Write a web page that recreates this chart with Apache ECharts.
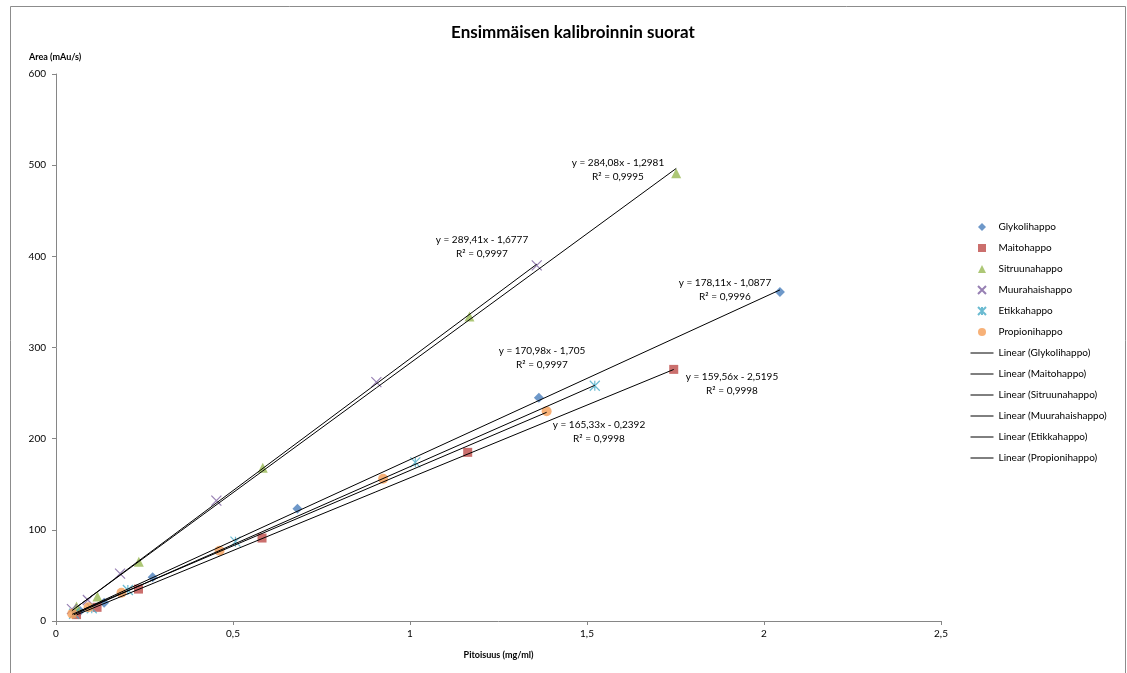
<!DOCTYPE html>
<html><head><meta charset="utf-8">
<script src="https://cdn.jsdelivr.net/npm/echarts@6/dist/echarts.min.js"></script>
<style>html,body{margin:0;padding:0;background:#fff}#c{width:1127px;height:673px}</style>
</head><body><div id="c"></div>
<script>
const seriesNames = ['Glykolihappo','Maitohappo','Sitruunahappo','Muurahaishappo','Etikkahappo','Propionihappo'];
const glykoliX = [0.068,0.136,0.273,0.682,1.364,2.045];
const glykoliY = [11,20,48,123,245,361];
const maitoX = [0.058,0.116,0.233,0.582,1.163,1.745];
const maitoY = [7,15,35,91,185,276];
const sitruunaX = [0.058,0.117,0.234,0.584,1.168,1.752];
const sitruunaY = [16,27,65,168,334,491];
const muurahaisX = [0.045,0.090,0.181,0.453,0.905,1.358];
const muurahaisY = [13,23,52,132,262,390];
const etikkaX = [0.051,0.101,0.203,0.507,1.015,1.522];
const etikkaY = [8,14,34,87,174,258];
const propioniX = [0.046,0.092,0.185,0.462,0.924,1.386];
const propioniY = [8,15,31,77,156,230];
const slopes = [178.11,159.56,284.08,289.41,170.98,165.33];
const intercepts = [-1.0877,-2.5195,-1.2981,-1.6777,-1.705,-0.2392];
const r2 = ['0,9996','0,9998','0,9995','0,9997','0,9997','0,9998'];
const xTicks = [0,0.5,1,1.5,2,2.5];
const yTicks = [0,100,200,300,400,500,600];

const xs = [glykoliX,maitoX,sitruunaX,muurahaisX,etikkaX,propioniX];
const ys = [glykoliY,maitoY,sitruunaY,muurahaisY,etikkaY,propioniY];
const colors = ['#4A7EBB','#BE4B48','#98B954','#7D60A0','#46AAC5','#F59D56'];
const symbols = ['diamond','rect','triangle','path://M0,0L10,10M10,0L0,10','path://M0,0L10,10M10,0L0,10M5,0L5,10','circle'];
const legendIcons = ['path://M5,0L10,5L5,10L0,5Z','path://M0,0H10V10H0Z','path://M5,0L10,10H0Z',
  'path://M0,0L10,10M10,0L0,10','path://M0,0L10,10M10,0L0,10M5,0L5,10','path://M0,5A5,5,0,1,1,10,5A5,5,0,1,1,0,5Z'];
const sizes = [10,9,10,10,10,10];
// label anchor pixels (layout only)
const labelPos = [[725,283],[732,377],[618,163],[482,240],[542,351],[599,425]];

const FONT = 'Lato, "Open Sans", sans-serif';
const series = [];
seriesNames.forEach((n,i)=>{
  const stroke = symbols[i].startsWith('path://');
  series.push({
    name:n, type:'scatter', symbol:symbols[i], symbolSize:sizes[i],
    data: xs[i].map((x,k)=>[x,ys[i][k]]),
    itemStyle: stroke ? {color:'rgba(0,0,0,0)', borderColor:colors[i], borderWidth:1.2} : {color:colors[i]},
    z:3
  });
});
seriesNames.forEach((n,i)=>{
  const x0 = Math.min(...xs[i]), x1 = Math.max(...xs[i]);
  series.push({
    name:'Linear ('+n+')', type:'line', symbol:'none', silent:true,
    data:[[x0, slopes[i]*x0+intercepts[i]],[x1, slopes[i]*x1+intercepts[i]]],
    lineStyle:{color:'#000', width:1}, itemStyle:{color:'#000'}, z:4
  });
});
const fmt = v => String(v).replace('.',',');
const graphics = [{type:'rect', shape:{x:10.5,y:6.5,width:1115,height:700}, style:{fill:'none', stroke:'#8c8c8c', lineWidth:1}, silent:true}];
seriesNames.forEach((n,i)=>{
  const sign = intercepts[i] < 0 ? ' - ' : ' + ';
  const eq = 'y = ' + fmt(slopes[i]) + 'x' + sign + fmt(Math.abs(intercepts[i]));
  graphics.push({type:'text', x:labelPos[i][0], y:labelPos[i][1], style:{text:eq, font:'10px '+FONT, fill:'#000', align:'center', verticalAlign:'middle'}, z:10});
  graphics.push({type:'text', x:labelPos[i][0], y:labelPos[i][1]+14, style:{text:'R² = '+r2[i], font:'10px '+FONT, fill:'#000', align:'center', verticalAlign:'middle'}, z:10});
});
graphics.push({type:'text', x:29, y:57, style:{text:'Area (mAu/s)', font:'bold 9px '+FONT, fill:'#000', verticalAlign:'middle'}});

const legendData = seriesNames.map((n,i)=>({name:n, icon:legendIcons[i]}))
  .concat(seriesNames.map(n=>({name:'Linear ('+n+')', itemStyle:{opacity:0}, lineStyle:{color:'#000', width:1}})));

const chart = echarts.init(document.getElementById('c'));
chart.setOption({
  animation:false,
  backgroundColor:'#fff',
  title:{text:'Ensimmäisen kalibroinnin suorat', left:568, top:19, textAlign:'center',
    textStyle:{fontFamily:FONT, fontWeight:'bold', fontSize:17, color:'#000'}},
  grid:{left:56, right:186, top:74, bottom:52, containLabel:false},
  xAxis:{type:'value', min:0, max:2.5, interval:0.5,
    name:'Pitoisuus (mg/ml)', nameLocation:'middle', nameGap:30,
    nameTextStyle:{fontFamily:FONT, fontWeight:'bold', fontSize:9, color:'#000'},
    axisLine:{show:true, lineStyle:{color:'#868686'}},
    axisTick:{show:true, length:4, lineStyle:{color:'#868686'}},
    splitLine:{show:false},
    axisLabel:{fontFamily:FONT, fontSize:10, color:'#000', margin:8, formatter:v=>{const t=xTicks.find(a=>Math.abs(a-v)<1e-9); return fmt(t===undefined?v:t);}}},
  yAxis:{type:'value', min:0, max:600, interval:100,
    axisLine:{show:true, lineStyle:{color:'#868686'}},
    axisTick:{show:true, length:4, lineStyle:{color:'#868686'}},
    splitLine:{show:false},
    axisLabel:{fontFamily:FONT, fontSize:10, color:'#000', margin:10, formatter:v=>{const t=yTicks.find(a=>a===v); return t===undefined?'':String(t);}}},
  legend:{orient:'vertical', left:965, top:217, itemGap:11, itemWidth:23, itemHeight:8, symbolKeepAspect:true,
    textStyle:{fontFamily:FONT, fontSize:10, color:'#000'},
    data: legendData},
  graphic:graphics,
  series:series
});
</script></body></html>
